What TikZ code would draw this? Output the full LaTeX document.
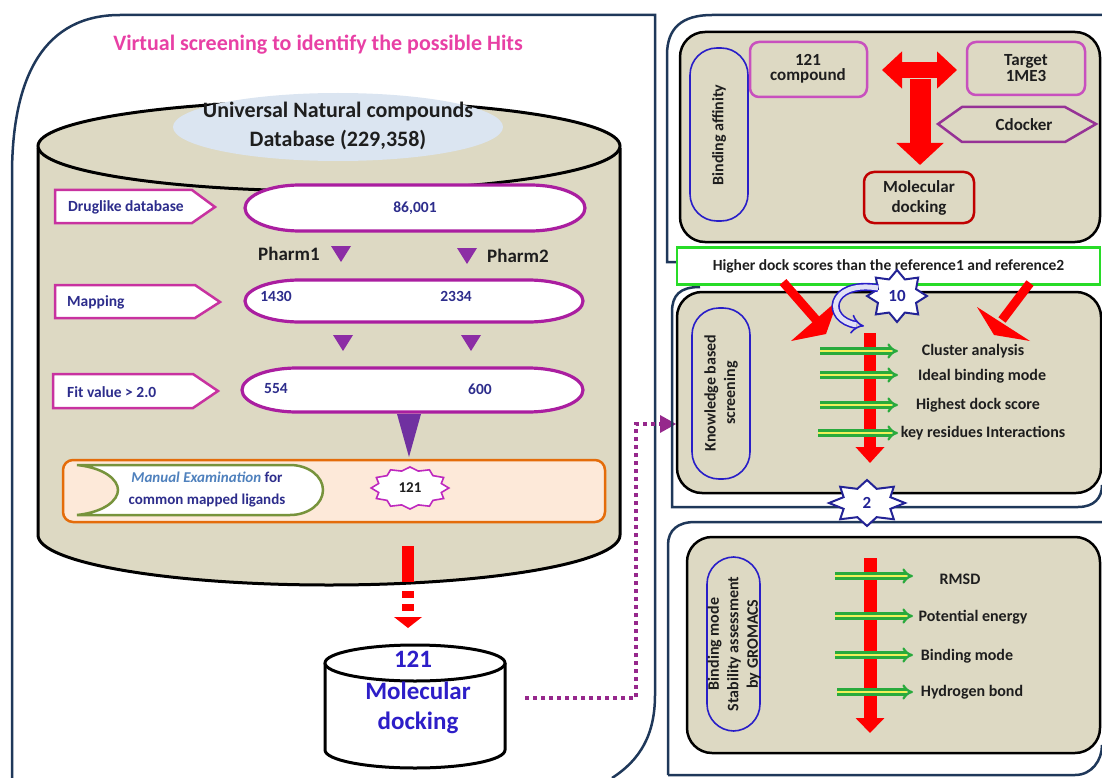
\documentclass[tikz,border=0pt]{standalone}
\usepackage{fontspec}
\setmainfont{Carlito}
\usetikzlibrary{shapes.geometric,arrows.meta}
\definecolor{navyb}{RGB}{31,56,90}
\definecolor{khaki}{RGB}{221,217,195}
\definecolor{titlepink}{RGB}{232,64,165}
\definecolor{tagmag}{RGB}{200,50,160}
\definecolor{stadmag}{RGB}{170,30,160}
\definecolor{txtnavy}{RGB}{45,45,140}
\definecolor{tripurp}{RGB}{140,45,165}
\definecolor{funpurp}{RGB}{112,48,160}
\definecolor{orangeb}{RGB}{228,108,10}
\definecolor{peach}{RGB}{253,233,217}
\definecolor{oliveg}{RGB}{119,147,60}
\definecolor{steel}{RGB}{79,129,189}
\definecolor{sealmag}{RGB}{190,40,190}
\definecolor{cylblue}{RGB}{45,30,200}
\definecolor{dotpurp}{RGB}{150,40,140}
\definecolor{lightblue}{RGB}{219,229,241}
\definecolor{stadblue}{RGB}{40,30,200}
\definecolor{boxpink}{RGB}{200,80,190}
\definecolor{darkred}{RGB}{192,0,0}
\definecolor{cdpurp}{RGB}{150,50,150}
\definecolor{brightgreen}{RGB}{40,220,40}
\definecolor{starnavy}{RGB}{35,35,150}
\definecolor{arrgreen}{RGB}{40,170,60}
\definecolor{arryellow}{RGB}{240,240,90}
\definecolor{txtdark}{RGB}{30,30,30}
\definecolor{lavender}{RGB}{225,225,245}
\begin{document}
\begin{tikzpicture}[x=1pt,y=-1pt,
  panel/.style={draw=navyb,line width=2.5pt},
  cylline/.style={draw=black,line width=3pt},
  tagbox/.style={draw=tagmag,fill=white,line width=2.5pt},
  stadium/.style={draw=stadmag,fill=white,line width=3.2pt},
  lbl/.style={font=\bfseries\fontsize{15.5}{18}\selectfont,text=txtnavy,inner sep=0pt},
  num/.style={font=\bfseries\fontsize{15.5}{18}\selectfont,text=txtnavy,inner sep=0pt},
  pharm/.style={font=\bfseries\fontsize{19}{22}\selectfont,text=txtdark,inner sep=0pt},
  kbox/.style={draw=black,fill=khaki,line width=2.5pt,rounded corners=25pt},
  bstad/.style={draw=stadblue,line width=1.6pt,rounded corners=27pt},
  rtxt/.style={font=\bfseries\fontsize{16}{19}\selectfont,text=txtdark,inner sep=0pt,align=center},
  vtxt/.style={font=\bfseries\fontsize{16}{19.5}\selectfont,text=txtdark,inner sep=0pt,align=center,rotate=90},
  garrow/.style={draw=arrgreen,double=arryellow,double distance=2.6pt,line width=2.3pt,-{Implies}},
  dotline/.style={draw=dotpurp,line width=4pt,dash pattern=on 4pt off 4pt},
  sealstar/.style={star,draw,fill=white,inner sep=0pt,transform shape}
]
\useasboundingbox (0,0) rectangle (1102,778);

% ---------------- left panel ----------------
\draw[panel] (12,778) -- (12,175) .. controls (12,75) and (45,15) .. (120,15) -- (655,15) -- (655,695) .. controls (655,735) and (640,760) .. (612,778);
\node[font=\bfseries\fontsize{22}{26}\selectfont,text=titlepink] (title) at (318,45) {Virtual screening to identify the possible Hits};

% big cylinder
\path[fill=khaki] (38,148) -- (38,535) arc[start angle=180,end angle=0,x radius=291,y radius=50] -- (620,148) -- cycle;
\draw[cylline] (38,148) -- (38,535) arc[start angle=180,end angle=0,x radius=291,y radius=50] -- (620,148);
\draw[cylline,fill=khaki] (329,146) ellipse[x radius=291,y radius=45];
\fill[lightblue] (338,127) ellipse[x radius=165,y radius=34];
\node[font=\bfseries\fontsize{22}{29}\selectfont,text=txtdark,align=center] (unc) at (338,126) {Universal Natural compounds\\Database (229,358)};

% row 1
\draw[tagbox] (55,190) -- (192,190) -- (215,207) -- (192,223) -- (55,223) -- cycle;
\node[lbl,anchor=west] (drug) at (68,207) {Druglike database};
\draw[stadium] (300,185) -- (530,185) arc[start angle=-90,end angle=90,x radius=55,y radius=23] -- (300,231) arc[start angle=90,end angle=270,x radius=55,y radius=23] -- cycle;
\node[num] (n86) at (415,208) {86,001};

\node[pharm] (ph1) at (289,254) {Pharm1};
\fill[tripurp] (331,246) -- (351,246) -- (341,262) -- cycle;
\fill[tripurp] (457,248) -- (477,248) -- (467,264) -- cycle;
\node[pharm] (ph2) at (518,256) {Pharm2};

% row 2
\draw[tagbox] (55,285) -- (195,285) -- (220,302) -- (195,318) -- (55,318) -- cycle;
\node[lbl,anchor=west] (map) at (67,302) {Mapping};
\draw[stadium] (300,280) -- (528,280) arc[start angle=-90,end angle=90,x radius=55,y radius=21] -- (300,322) arc[start angle=90,end angle=270,x radius=55,y radius=21] -- cycle;
\node[num] (n1430) at (276,296) {1430};
\node[num] (n2334) at (456,296) {2334};
\fill[tripurp] (333,335) -- (353,335) -- (343,351) -- cycle;
\fill[tripurp] (461,335) -- (481,335) -- (471,351) -- cycle;

% row 3
\draw[tagbox] (53,374) -- (193,374) -- (218,391) -- (193,408) -- (53,408) -- cycle;
\node[lbl,anchor=west] (fit) at (67,392) {Fit value > 2.0};
\draw[stadium] (297,368) -- (528,368) arc[start angle=-90,end angle=90,x radius=55,y radius=22] -- (297,412) arc[start angle=90,end angle=270,x radius=55,y radius=22] -- cycle;
\node[num] (n554) at (276,389) {554};
\node[num] (n600) at (480,389) {600};
\fill[funpurp] (397,414) -- (421,414) -- (409,457) -- cycle;

% manual examination
\draw[draw=orangeb,fill=peach,line width=2.5pt,rounded corners=10pt] (63,460) rectangle (605,522);
\draw[draw=oliveg,fill=white,line width=2.5pt] (77,465) -- (290,465) arc[start angle=-90,end angle=90,x radius=33,y radius=25] -- (77,515) .. controls (105,512) and (118,500) .. (118,490) .. controls (118,480) and (105,468) .. (77,465) -- cycle;
\node[font=\bfseries\fontsize{15}{22}\selectfont,text=txtnavy,align=center] (manual) at (207,489) {{\color{steel}\itshape Manual Examination} for\\common mapped ligands};
\node[sealstar,star points=12,star point ratio=1.2,draw=sealmag,line width=1.6pt,minimum size=42pt,xscale=1.85] (seal) at (410,488) {};
\node[font=\bfseries\fontsize{15}{18}\selectfont,text=txtdark] (n121) at (seal.center) {121};

% red dashed arrow
\coordinate (rtop) at (408,548);
\fill[red] (402,546) rectangle (414,582);
\fill[red] (402,591) rectangle (414,598);
\fill[red] (402,604) rectangle (414,611);
\fill[red] (394,617) -- (422,617) -- (408,628) -- cycle;

% small cylinder
\draw[cylline,fill=white] (325,663) -- (325,750) arc[start angle=180,end angle=0,x radius=90,y radius=18] -- (505,663);
\draw[cylline,fill=white] (415,663) ellipse[x radius=90,y radius=18];
\node[font=\bfseries\fontsize{25}{30}\selectfont,text=cylblue] (c121) at (413,659) {121};
\node[font=\bfseries\fontsize{25}{30}\selectfont,text=cylblue,align=center] (cmd) at (418,708) {Molecular\\docking};

% dotted connector
\coordinate (dotstart) at (525,698);
\coordinate (dotend) at (676,424);
\draw[dotline] (dotstart) -| (636,424) -- (660,424);
\fill[dotpurp] (660,415) -- (dotend) -- (660,433) -- cycle;

% ---------------- right top panel ----------------
\draw[panel] (700,262) -- (667,262) -- (667,55) .. controls (667,28) and (682,15) .. (712,15) -- (1102,15);
\draw[kbox] (680,32) rectangle (1100,242);
\draw[bstad] (690,48) rectangle (748,221);
\node[vtxt] (ba) at (719,135) {Binding affinity};
\draw[draw=boxpink,line width=2.5pt,rounded corners=9pt] (750,42) rectangle (867,97);
\node[font=\bfseries\fontsize{17}{15.5}\selectfont,text=txtdark,align=center] (cmp) at (808,69) {121\\compound};
\draw[draw=boxpink,line width=2.5pt,rounded corners=9pt] (967,42) rectangle (1085,95);
\node[font=\bfseries\fontsize{17}{15.5}\selectfont,text=txtdark,align=center] (tgt) at (1026,68) {Target\\1ME3};
\draw[draw=cdpurp,line width=2.5pt] (938,124) -- (962,107) -- (1065,107) -- (1096,124) -- (1065,142) -- (962,142) -- cycle;
\node[font=\bfseries\fontsize{17}{20}\selectfont,text=txtdark] (cdock) at (1024,125) {Cdocker};
\draw[draw=darkred,line width=2.5pt,rounded corners=10pt] (864,172) rectangle (974,223);
\node[font=\bfseries\fontsize{17}{20.5}\selectfont,text=txtdark,align=center] (md) at (919,198) {Molecular\\docking};
\draw[draw=red,line width=16pt,{Triangle[length=20pt,width=36pt]}-{Triangle[length=20pt,width=36pt]}] (882,70) -- (957,70);
\draw[draw=red,line width=21pt,-{Triangle[length=22pt,width=46pt]}] (920,79) -- (920,165);

% ---------------- right middle panel ----------------
\draw[panel] (700,287) .. controls (680,287) and (672,295) .. (672,312) -- (672,507) -- (1078,507) .. controls (1094,507) and (1102,498) .. (1102,485);
\draw[kbox] (677,292) rectangle (1101,493);
\node[draw=brightgreen,fill=white,line width=2.5pt,minimum width=423pt,minimum height=37pt,font=\bfseries\fontsize{15.5}{18}\selectfont,text=txtdark] (higher) at (888.5,266) {Higher dock scores than the reference1 and reference2};
\draw[bstad] (692,308) rectangle (750,479);
\node[vtxt] (kbs) at (721,393) {Knowledge based\\screening};
% red diagonal arrows
\draw[draw=red,line width=9pt] (783,282) -- (818,322);
\fill[red] (791,341) -- (838,300) -- (826,334) -- cycle;
\draw[draw=red,line width=9pt] (1030,283) -- (1002,320);
\fill[red] (977,307) -- (1030,341) -- (994,335) -- cycle;
% star 10 and curved arrow
\node[sealstar,star points=8,star point ratio=1.45,draw=starnavy,line width=2pt,minimum size=52pt,xscale=1.15] (s10) at (897,296) {};
\node[font=\bfseries\fontsize{17}{20}\selectfont,text=starnavy] (t10) at (s10.center) {10};
\draw[draw=red,line width=12pt,-{Triangle[length=16pt,width=28pt]}] (870,333) -- (870,463);
\draw[draw=stadblue,double=lavender,double distance=5pt,line width=1.6pt,-{Implies}] (878,288) .. controls (828,280) and (824,320) .. (864,326);
\draw[garrow] (820,351) -- (898,351);
\draw[garrow] (820,375) -- (898,375);
\draw[garrow] (820,405) -- (898,405);
\draw[garrow] (818,433) -- (898,433);
\node[rtxt] (cl) at (973,351) {Cluster analysis};
\node[rtxt] (ib) at (982,376) {Ideal binding mode};
\node[rtxt] (hd) at (978,405) {Highest dock score};
\node[rtxt] (kr) at (983,433) {key residues Interactions};

% ---------------- right bottom panel ----------------
\draw[panel] (668,775) -- (668,545) .. controls (668,530) and (678,522) .. (695,522) -- (1102,522);
\draw[panel] (668,775) -- (1075,775) .. controls (1092,775) and (1102,760) .. (1102,745);
\draw[kbox] (687,537) rectangle (1100,753);
\draw[bstad] (707,557) rectangle (760,731);
\node[vtxt] (gro) at (734,644) {Binding mode\\Stability assessment\\by GROMACS};
\draw[draw=red,line width=13pt,-{Triangle[length=15pt,width=28pt]}] (870,558) -- (870,733);
\draw[garrow] (835,576) -- (913,576);
\draw[garrow] (835,616) -- (913,616);
\draw[garrow] (835,655) -- (913,655);
\draw[garrow] (837,692) -- (913,692);
\node[rtxt] (rmsd) at (960,579) {RMSD};
\node[rtxt] (pe) at (973,617) {Potential energy};
\node[rtxt] (bm) at (967,656) {Binding mode};
\node[rtxt] (hb) at (972,692) {Hydrogen bond};

% star 2
\node[sealstar,star points=8,star point ratio=1.5,draw=starnavy,line width=2pt,minimum size=46pt,xscale=1.65] (s2) at (867,503) {};
\node[font=\bfseries\fontsize{17}{20}\selectfont,text=starnavy] (t2) at (s2.center) {2};
\end{tikzpicture}
\end{document}
